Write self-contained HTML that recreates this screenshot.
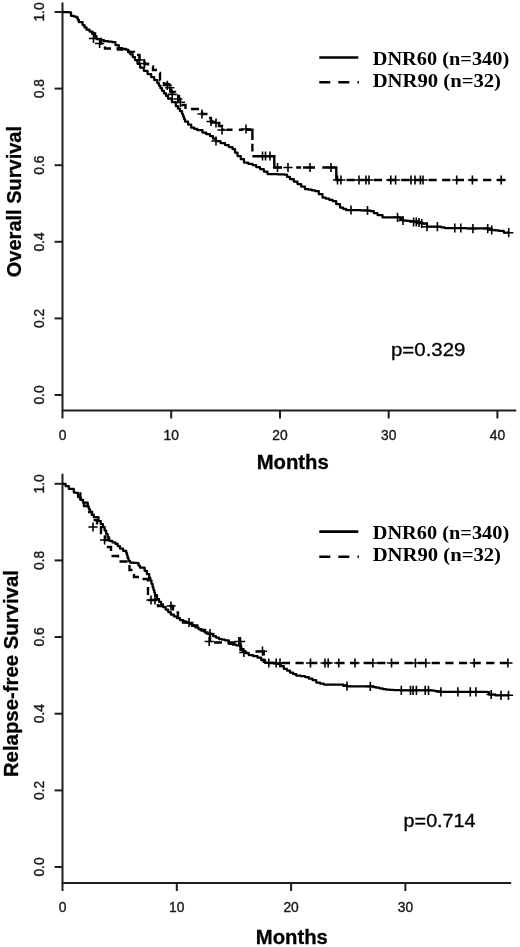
<!DOCTYPE html>
<html><head><meta charset="utf-8"><title>Survival curves</title>
<style>
html,body{margin:0;padding:0;background:#fff;}
body{width:520px;height:947px;overflow:hidden;font-family:"Liberation Sans",sans-serif;}
svg{display:block;will-change:transform;opacity:0.999}
.tk{font-family:"Liberation Sans",sans-serif;font-size:13.8px;fill:#1a1a1a;stroke:#1a1a1a;stroke-width:0.4;}
.ax{font-family:"Liberation Sans",sans-serif;font-size:19.8px;font-weight:bold;fill:#000;stroke:#000;stroke-width:0.3;}
.lg{font-family:"Liberation Serif",serif;font-size:18.8px;font-weight:bold;fill:#000;}
.pv{font-family:"Liberation Sans",sans-serif;font-size:17.8px;fill:#000;stroke:#000;stroke-width:0.3;}
.axis line,.axis path{stroke:#1e1e1e;stroke-width:2;fill:none;}
.s{fill:none;stroke:#000;stroke-width:2.25;stroke-linejoin:round;stroke-linecap:butt;}
.d{fill:none;stroke:#000;stroke-width:2.4;stroke-dasharray:8 5.5;}
.c{fill:none;stroke:#000;stroke-width:1.6;}
</style></head>
<body>
<svg width="520" height="947" viewBox="0 0 520 947">
<rect width="520" height="947" fill="#fff"/>
<!-- TOP -->
<g class="axis">
<path d="M62.5 2.5 V410.5 M61.5 410.5 H516.2"/>
<line x1="54.6" y1="395.0" x2="62.5" y2="395.0"/><line x1="54.6" y1="318.4" x2="62.5" y2="318.4"/><line x1="54.6" y1="241.8" x2="62.5" y2="241.8"/><line x1="54.6" y1="165.2" x2="62.5" y2="165.2"/><line x1="54.6" y1="88.6" x2="62.5" y2="88.6"/><line x1="54.6" y1="12.0" x2="62.5" y2="12.0"/>
<line x1="62.5" y1="410.5" x2="62.5" y2="418.5"/><line x1="171.2" y1="410.5" x2="171.2" y2="418.5"/><line x1="280" y1="410.5" x2="280" y2="418.5"/><line x1="388.7" y1="410.5" x2="388.7" y2="418.5"/><line x1="497.4" y1="410.5" x2="497.4" y2="418.5"/>
</g>
<text class="tk" transform="translate(44.2,395.0) rotate(-90)" text-anchor="middle">0.0</text><text class="tk" transform="translate(44.2,318.4) rotate(-90)" text-anchor="middle">0.2</text><text class="tk" transform="translate(44.2,241.8) rotate(-90)" text-anchor="middle">0.4</text><text class="tk" transform="translate(44.2,165.2) rotate(-90)" text-anchor="middle">0.6</text><text class="tk" transform="translate(44.2,88.6) rotate(-90)" text-anchor="middle">0.8</text><text class="tk" transform="translate(44.2,12.0) rotate(-90)" text-anchor="middle">1.0</text>
<text class="tk" x="62.5" y="439.9" text-anchor="middle">0</text><text class="tk" x="171.2" y="439.9" text-anchor="middle">10</text><text class="tk" x="280" y="439.9" text-anchor="middle">20</text><text class="tk" x="388.7" y="439.9" text-anchor="middle">30</text><text class="tk" x="497.4" y="439.9" text-anchor="middle">40</text>
<text class="ax" transform="translate(20.7,201.6) rotate(-90)" text-anchor="middle" style="font-size:20px">Overall Survival</text>
<text class="ax" x="292.7" y="469" text-anchor="middle" style="font-size:20.3px">Months</text>
<path class="s" d="M62.5 12.0 H65.7 V12.2 H68.8 V12.3 H71.0 V15.8 H73.8 V16.6 H76.5 V17.4 H77.7 V19.7 H78.8 V22.0 H82.6 V25.0 H84.5 V27.4 H86.5 V29.7 H89.5 V31.6 H92.6 V33.5 H94.5 V36.2 H96.5 V39.0 H100.2 V40.1 H104.0 V41.2 H108.0 V41.6 H112.0 V42.0 H115.4 V45.0 H118.8 V48.0 H122.2 V48.9 H125.7 V49.7 H128.0 V52.0 H130.3 V54.3 H132.7 V57.1 H135.0 V60.0 H137.5 V63.8 H140.0 V67.5 H143.8 V70.8 H147.5 V74.0 H151.2 V77.0 H154.2 V80.0 H157.3 V83.0 H158.9 V85.6 H160.4 V88.2 H162.0 V90.8 H164.0 V93.4 H166.0 V95.9 H168.0 V98.5 H171.9 V102.2 H175.8 V106.0 H177.9 V108.6 H179.9 V111.2 H182.0 V113.8 H183.0 V116.4 H184.0 V118.9 H185.0 V121.5 H188.1 V124.6 H191.2 V127.7 H194.2 V128.9 H197.3 V130.2 H202.5 V132.5 H206.2 V134.2 H210.0 V136.0 H213.0 V138.5 H216.0 V141.0 H220.5 V143.0 H225.0 V145.0 H228.8 V147.0 H232.5 V149.0 H235.0 V152.5 H237.5 V156.0 H240.8 V159.2 H244.0 V162.5 H248.2 V163.8 H252.5 V165.0 H256.2 V167.0 H260.0 V169.0 H263.8 V171.5 H267.5 V174.0 H270.8 V174.1 H274.1 V174.2 H277.4 V174.3 H280.7 V174.4 H284.0 V174.5 H287.0 V176.8 H290.0 V179.0 H293.8 V181.5 H297.5 V184.0 H301.2 V186.5 H305.0 V189.0 H308.3 V189.7 H311.7 V190.3 H315.0 V191.0 H318.8 V194.2 H322.5 V197.5 H325.8 V198.7 H329.2 V199.8 H332.5 V201.0 H336.2 V204.2 H340.0 V207.5 H343.0 V208.8 H346.0 V210.0 H349.6 V210.1 H353.2 V210.2 H356.8 V210.2 H360.3 V210.3 H363.9 V210.4 H367.5 V210.5 H370.0 V211.0 H373.8 V213.0 H377.5 V215.0 H382.5 V217.3 H397.5 V217.3 H400.2 V218.9 H403.0 V220.5 H406.5 V220.8 H410.1 V221.1 H413.6 V221.4 H419.0 V222.5 H421.7 V223.5 H427.0 V226.7 H437.4 V226.7 H441.0 V227.3 H444.6 V228.0 H448.1 V228.1 H451.7 V228.1 H455.2 V228.2 H458.8 V228.2 H462.3 V228.2 H465.8 V228.3 H469.4 V228.3 H472.9 V228.4 H487.7 V228.6 H491.7 V230.0 H495.1 V230.4 H498.5 V230.8 H503.8 V232.6 H508.7 V232.7"/>
<path class="c" d="M211.4 141.0h9.2M216.0 136.4v9.2M346.4 210.0h9.2M351.0 205.4v9.2M362.9 210.5h9.2M367.5 205.9v9.2M392.9 217.3h9.2M397.5 212.7v9.2M398.4 220.5h9.2M403.0 215.9v9.2M409.0 222.0h9.2M413.6 217.4v9.2M411.7 222.0h9.2M416.3 217.4v9.2M414.4 222.5h9.2M419.0 217.9v9.2M417.1 223.5h9.2M421.7 218.9v9.2M422.4 226.7h9.2M427.0 222.1v9.2M432.8 226.7h9.2M437.4 222.1v9.2M450.2 228.0h9.2M454.8 223.4v9.2M456.2 228.0h9.2M460.8 223.4v9.2M468.3 228.6h9.2M472.9 224.0v9.2M483.1 228.6h9.2M487.7 224.0v9.2M487.1 230.0h9.2M491.7 225.4v9.2M504.1 232.7h9.2M508.7 228.1v9.2"/>
<path class="d" d="M91.0 33.5 H95.0 V39.0 H101.0 V43.5 H105.0 V48.5 H118.0 V49.5 H126.0 V51.0 H129.0 V52.0 H134.0 V55.0 H139.5 V60.0 H144.5 V64.0 H148.0 V66.5 H153.0 V70.0 H157.0 V73.0 H160.0 V80.0 H164.0 V84.0 H168.0 V87.0 H171.0 V92.0 H175.0 V96.0 H179.0 V100.0 H182.0 V105.0 H185.5 V109.0 H200.5 V109.0 H202.0 V114.0 H208.0 V118.0 H211.0 V121.5 H216.0 V123.0 H219.0 V126.0 H222.0 V129.8"/>
<path class="d" style="stroke-dasharray:none" d="M222 129.8H224.5M226.5 129.8H232.5M238.8 129.8H243.5M246 129.8H252.4V140M252.4 143.8V151.4M252.4 156.2H274.3V167.5H282M296.2 167.5H301.2M303 167.5H315M322.3 167.5H336.3V180"/>
<path class="d" d="M335.5 180H505.5" style="stroke-dasharray:8.2 5.45;stroke-dashoffset:2.55"/>
<path class="c" d="M88.9 38.5h9.2M93.5 33.9v9.2M95.0 43.5h9.2M99.6 38.9v9.2M134.9 60.0h9.2M139.5 55.4v9.2M139.9 63.5h9.2M144.5 58.9v9.2M162.7 85.4h9.2M167.3 80.8v9.2M165.2 87.8h9.2M169.8 83.2v9.2M167.6 94.4h9.2M172.2 89.8v9.2M173.2 99.0h9.2M177.8 94.4v9.2M175.8 102.3h9.2M180.4 97.7v9.2M197.4 114.0h9.2M202.0 109.4v9.2M206.4 121.5h9.2M211.0 116.9v9.2M211.4 123.0h9.2M216.0 118.4v9.2M217.4 130.0h9.2M222.0 125.4v9.2M241.4 129.0h9.2M246.0 124.4v9.2M257.9 156.0h9.2M262.5 151.4v9.2M260.9 156.0h9.2M265.5 151.4v9.2M265.4 156.0h9.2M270.0 151.4v9.2M272.9 167.5h9.2M277.5 162.9v9.2M283.4 167.5h9.2M288.0 162.9v9.2M305.4 167.5h9.2M310.0 162.9v9.2M326.4 167.5h9.2M331.0 162.9v9.2M332.9 180.0h9.2M337.5 175.4v9.2M336.4 180.0h9.2M341.0 175.4v9.2M354.4 180.0h9.2M359.0 175.4v9.2M361.4 180.0h9.2M366.0 175.4v9.2M364.4 180.0h9.2M369.0 175.4v9.2M386.2 180.0h9.2M390.8 175.4v9.2M391.0 180.0h9.2M395.6 175.4v9.2M406.4 180.0h9.2M411.0 175.4v9.2M410.4 180.0h9.2M415.0 175.4v9.2M415.8 180.0h9.2M420.4 175.4v9.2M418.4 180.0h9.2M423.0 175.4v9.2M452.1 180.0h9.2M456.7 175.4v9.2M467.8 180.0h9.2M472.4 175.4v9.2M496.6 180.0h9.2M501.2 175.4v9.2"/>
<line x1="319.3" y1="57.5" x2="358.3" y2="57.5" stroke="#000" stroke-width="2.6"/>
<path d="M319.3 82.3h11M338.3 82.3h11M357.5 82.3h1.4" stroke="#000" stroke-width="2.6" fill="none"/>
<text class="lg" x="372.7" y="65.1" textLength="136.5" lengthAdjust="spacingAndGlyphs">DNR60 (n=340)</text>
<text class="lg" x="372.7" y="86.8" textLength="128.3" lengthAdjust="spacingAndGlyphs">DNR90 (n=32)</text>
<text class="pv" x="391" y="356.2" textLength="74.5" lengthAdjust="spacingAndGlyphs">p=0.329</text>
<!-- BOTTOM -->
<g class="axis">
<path d="M62.5 473.7 V883 M61.5 883 H511.2"/>
<line x1="54.6" y1="867.0" x2="62.5" y2="867.0"/><line x1="54.6" y1="790.4" x2="62.5" y2="790.4"/><line x1="54.6" y1="713.7" x2="62.5" y2="713.7"/><line x1="54.6" y1="637.0" x2="62.5" y2="637.0"/><line x1="54.6" y1="560.4" x2="62.5" y2="560.4"/><line x1="54.6" y1="483.8" x2="62.5" y2="483.8"/>
<line x1="62.5" y1="883" x2="62.5" y2="891.0"/><line x1="176.8" y1="883" x2="176.8" y2="891.0"/><line x1="291.1" y1="883" x2="291.1" y2="891.0"/><line x1="405.4" y1="883" x2="405.4" y2="891.0"/>
</g>
<text class="tk" transform="translate(44.2,867.0) rotate(-90)" text-anchor="middle">0.0</text><text class="tk" transform="translate(44.2,790.4) rotate(-90)" text-anchor="middle">0.2</text><text class="tk" transform="translate(44.2,713.7) rotate(-90)" text-anchor="middle">0.4</text><text class="tk" transform="translate(44.2,637.0) rotate(-90)" text-anchor="middle">0.6</text><text class="tk" transform="translate(44.2,560.4) rotate(-90)" text-anchor="middle">0.8</text><text class="tk" transform="translate(44.2,483.8) rotate(-90)" text-anchor="middle">1.0</text>
<text class="tk" x="62.5" y="912.4" text-anchor="middle">0</text><text class="tk" x="176.8" y="912.4" text-anchor="middle">10</text><text class="tk" x="291.1" y="912.4" text-anchor="middle">20</text><text class="tk" x="405.4" y="912.4" text-anchor="middle">30</text>
<text class="ax" transform="translate(17.7,673.6) rotate(-90)" text-anchor="middle" style="font-size:20.35px">Relapse-free Survival</text>
<text class="ax" x="291.8" y="944" text-anchor="middle" style="font-size:20.3px">Months</text>
<path class="s" d="M62.5 483.8 H65.6 V486.2 H68.8 V488.8 H73.8 V492.5 H76.0 V492.8 H78.0 V497.0 H80.5 V499.8 H83.0 V502.6 H87.7 V506.5 H88.8 V509.1 H90.0 V511.8 H91.9 V514.5 H93.8 V517.2 H98.5 V521.0 H100.8 V524.1 H103.0 V527.2 H104.6 V530.6 H106.2 V534.0 H107.7 V537.4 H109.2 V540.8 H112.3 V542.3 H115.4 V543.8 H117.7 V546.1 H120.0 V548.5 H123.1 V550.8 H126.2 V553.0 H127.0 V555.6 H127.7 V558.2 H128.5 V560.8 H130.0 V562.5 H133.5 V562.9 H137.0 V563.2 H138.5 V565.5 H140.0 V567.7 H144.6 V570.8 H146.9 V574.1 H149.2 V577.5 H150.3 V580.7 H151.5 V583.8 H152.6 V587.0 H153.4 V589.7 H154.2 V592.3 H155.0 V595.0 H157.0 V599.2 H159.0 V601.8 H161.0 V604.4 H163.0 V607.0 H165.6 V609.5 H168.2 V612.1 H170.8 V614.6 H173.9 V616.4 H176.9 V618.2 H180.0 V620.0 H183.1 V621.3 H186.1 V622.5 H189.2 V623.8 H192.3 V625.6 H195.4 V627.4 H198.5 V629.2 H201.6 V630.7 H204.6 V632.3 H207.7 V633.8 H213.0 V636.0 H216.0 V637.5 H219.0 V639.0 H222.0 V639.6 H225.0 V640.3 H228.8 V643.8 H232.5 V644.6 H236.2 V645.4 H240.0 V646.2 H241.2 V648.8 H242.5 V651.2 H245.6 V653.1 H248.8 V655.0 H253.1 V656.2 H257.5 V657.5 H261.2 V660.0 H265.0 V662.5 H269.2 V662.9 H273.3 V663.3 H277.5 V663.8 H280.6 V666.2 H283.8 V668.8 H286.9 V670.6 H290.0 V672.5 H293.1 V674.0 H296.2 V675.5 H300.6 V676.2 H305.0 V677.0 H308.8 V678.5 H312.5 V680.0 H316.2 V682.5 H320.0 V683.5 H323.8 V684.5 H340.0 V684.5 H343.5 V685.4 H347.0 V686.3 H370.3 V686.4 H373.1 V687.0 H376.0 V687.7 H379.3 V688.3 H382.7 V689.0 H386.0 V689.6 H389.8 V689.8 H393.6 V690.0 H397.5 V690.1 H401.3 V690.3 H428.5 V690.3 H431.8 V690.6 H435.0 V691.0 H438.3 V691.3 H440.9 V691.9 H487.3 V692.0 H489.0 V694.5 H491.2 V694.5 H495.5 V695.3 H508.5 V695.3"/>
<path class="c" d="M239.2 652.5h9.2M243.8 647.9v9.2M342.4 686.2h9.2M347.0 681.6v9.2M365.7 686.4h9.2M370.3 681.8v9.2M396.7 690.3h9.2M401.3 685.7v9.2M405.9 690.3h9.2M410.5 685.7v9.2M408.5 690.3h9.2M413.1 685.7v9.2M411.8 690.3h9.2M416.4 685.7v9.2M420.6 690.3h9.2M425.2 685.7v9.2M423.9 690.3h9.2M428.5 685.7v9.2M436.3 691.9h9.2M440.9 687.3v9.2M453.3 691.9h9.2M457.9 687.3v9.2M465.7 691.9h9.2M470.3 687.3v9.2M471.3 691.9h9.2M475.9 687.3v9.2M486.6 694.5h9.2M491.2 689.9v9.2M496.4 695.3h9.2M501.0 690.7v9.2M503.9 695.3h9.2M508.5 690.7v9.2"/>
<path class="d" d="M79.5 493.5 H80.3 V499.0 H84.0 V506.0 H88.0 V512.0 H92.0 V520.0 H97.0 V526.0 H101.0 V533.0 H105.0 V540.0 H108.0 V547.0 H111.0 V556.0 H118.0 V561.5 H129.5 V570.0 H134.0 V577.0 H141.0 V579.0 H148.0 V595.0 H149.0 V600.0 H158.0 V606.0 H173.0 V612.5 H178.0 V619.0 H183.0 V622.5 H192.0 V625.5 H199.0 V630.0 H205.0 V633.5 H210.0 V642.5 H240.5 V651.5"/>
<path class="d" style="stroke-dasharray:none" d="M255.5 651.5H263.75V655.5M263.75 658.5V663"/>
<path class="d" d="M263.75 663H511" style="stroke-dasharray:8.2 5.42;stroke-dashoffset:9.12"/>
<path class="c" d="M88.4 527.0h9.2M93.0 522.4v9.2M100.0 540.0h9.2M104.6 535.4v9.2M146.4 600.0h9.2M151.0 595.4v9.2M150.4 600.0h9.2M155.0 595.4v9.2M166.4 606.0h9.2M171.0 601.4v9.2M184.4 622.5h9.2M189.0 617.9v9.2M205.4 633.8h9.2M210.0 629.1v9.2M204.6 641.5h9.2M209.2 636.9v9.2M234.2 641.5h9.2M238.8 636.9v9.2M235.9 641.5h9.2M240.5 636.9v9.2M257.9 651.2h9.2M262.5 646.6v9.2M264.1 663.0h9.2M268.8 658.4v9.2M271.6 663.0h9.2M276.2 658.4v9.2M275.4 663.0h9.2M280.0 658.4v9.2M305.9 663.0h9.2M310.5 658.4v9.2M320.4 663.0h9.2M325.0 658.4v9.2M323.6 663.0h9.2M328.2 658.4v9.2M334.1 663.0h9.2M338.8 658.4v9.2M350.4 663.0h9.2M355.0 658.4v9.2M368.3 663.0h9.2M372.9 658.4v9.2M386.9 663.0h9.2M391.5 658.4v9.2M410.8 663.0h9.2M415.4 658.4v9.2M421.2 663.0h9.2M425.8 658.4v9.2M469.6 663.0h9.2M474.2 658.4v9.2M503.3 663.0h9.2M507.9 658.4v9.2"/>
<line x1="319.3" y1="531.6" x2="358.3" y2="531.6" stroke="#000" stroke-width="2.6"/>
<path d="M319.3 556.8h11M338.3 556.8h11M357.5 556.8h1.4" stroke="#000" stroke-width="2.6" fill="none"/>
<text class="lg" x="372.7" y="539.4" textLength="136.5" lengthAdjust="spacingAndGlyphs">DNR60 (n=340)</text>
<text class="lg" x="372.7" y="560.6" textLength="128.3" lengthAdjust="spacingAndGlyphs">DNR90 (n=32)</text>
<text class="pv" x="403.6" y="827.4" textLength="72" lengthAdjust="spacingAndGlyphs">p=0.714</text>
</svg>
</body></html>
